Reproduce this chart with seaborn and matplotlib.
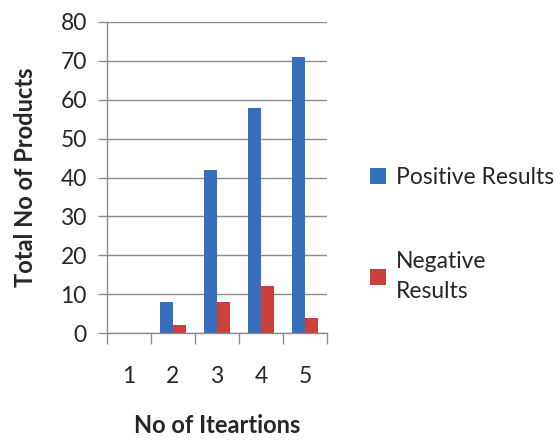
#!/usr/bin/env python3
# Positive / negative results per iteration

import pandas as pd
import matplotlib
matplotlib.use('Agg')
import matplotlib.pyplot as plt
import seaborn as sns

iterations = ['1', '2', '3', '4', '5']
positive = [0, 8, 42, 58, 71]
negative = [0, 2, 8, 12, 4]
series_names = ['Positive Results', 'Negative\nResults']

df = pd.DataFrame({'iteration': iterations,
                   series_names[0]: positive,
                   series_names[1]: negative})
long_df = df.melt(id_vars='iteration', var_name='series', value_name='count')

sns.set_style('white')
plt.rcParams['font.family'] = ['Lato', 'DejaVu Sans']

grey = '#8c8c8c'
fig = plt.figure(figsize=(5.6, 4.4), dpi=100)
ax = fig.add_axes([0.191, 0.243, 0.393, 0.707])

sns.barplot(data=long_df, x='iteration', y='count', hue='series',
            palette=['#3670BD', '#C9403C'], width=0.57, gap=0,
            saturation=1, linewidth=0, ax=ax)

ax.set_ylim(0, 80)
ax.set_xlim(-0.5, 4.5)
ax.set_yticks(range(0, 81, 10))
ax.yaxis.grid(True, color=grey, linewidth=1)
ax.set_axisbelow(True)

for side in ['top', 'right']:
    ax.spines[side].set_visible(False)
for side in ['left', 'bottom']:
    ax.spines[side].set_color(grey)
    ax.spines[side].set_linewidth(1)

ax.set_xticks([i - 0.5 for i in range(6)], minor=True)
ax.tick_params(axis='x', which='minor', length=8, color=grey, width=1,
               direction='out', bottom=True)
ax.tick_params(axis='x', which='major', length=0, pad=24, labelsize=16.5)
ax.tick_params(axis='y', length=6.5, color=grey, width=1, direction='out',
               left=True, pad=8, labelsize=16.5)

ax.set_xlabel('No of Iteartions', fontsize=17, fontweight='bold', labelpad=19)
ax.set_ylabel('Total No of Products', fontsize=17, fontweight='bold', labelpad=17)

leg = ax.legend(loc='upper left', bbox_to_anchor=(0.645, 0.642),
                bbox_transform=fig.transFigure, frameon=False, fontsize=16.5,
                handlelength=0.7, handleheight=0.7, handletextpad=0.4,
                labelspacing=2.75, borderaxespad=0)
for t in leg.get_texts():
    t.set_linespacing(1.55)

fig.savefig('out.png', dpi=100)
